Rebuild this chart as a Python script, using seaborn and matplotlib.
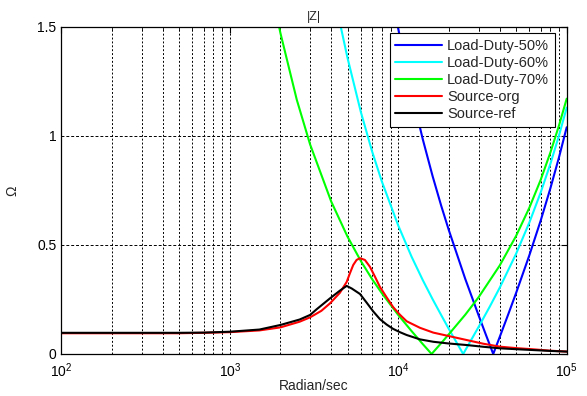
import numpy as np
import pandas as pd
import matplotlib
matplotlib.use("Agg")
import matplotlib.pyplot as plt
import seaborn as sns

# frequency (rad/s) and |Z| (ohm) values
w_load50 = [9800, 10000, 12000, 14000, 16000, 18000, 20000, 25000, 30000, 33000,
            36640, 40000, 45000, 50000, 60000, 70000, 80000, 90000, 100000]
z_load50 = [1.526, 1.491, 1.199, 0.983, 0.815, 0.679, 0.566, 0.344, 0.177, 0.092,
            0.0, 0.077, 0.182, 0.278, 0.452, 0.610, 0.759, 0.901, 1.039]

w_load60 = [4500, 5000, 6000, 7000, 8000, 10000, 12000, 14000, 16000, 18000, 20000,
            22000, 24300, 27000, 30000, 35000, 40000, 50000, 60000, 70000, 80000,
            90000, 100000]
z_load60 = [1.52, 1.357, 1.109, 0.928, 0.790, 0.589, 0.446, 0.338, 0.251, 0.178, 0.114,
            0.058, 0.0, 0.062, 0.124, 0.218, 0.303, 0.458, 0.602, 0.739, 0.871,
            1.001, 1.129]

w_load70 = [1800, 2000, 2500, 3000, 4000, 5000, 6000, 7000, 8000, 10000, 12000, 14000,
            15780, 18000, 20000, 25000, 30000, 40000, 50000, 60000, 70000, 80000,
            90000, 100000]
z_load70 = [1.638, 1.47, 1.165, 0.96, 0.699, 0.538, 0.426, 0.343, 0.278, 0.179, 0.105,
            0.045, 0.0, 0.05, 0.091, 0.180, 0.260, 0.405, 0.540, 0.670, 0.797, 0.923,
            1.047, 1.170]

w_src_org = [100, 200, 500, 700, 1000, 1500, 2000, 2600, 3000, 3500, 3936, 4500, 4943,
             5168, 5408, 5660, 5930, 6340, 6790, 7280, 7780, 8530, 9330, 10230, 11220,
             13460, 16140, 20000, 25470, 32000, 40180, 50000, 63240, 80000, 100000]
z_src_org = [0.095, 0.095, 0.095, 0.097, 0.100, 0.108, 0.122, 0.148, 0.168, 0.198, 0.232,
             0.28, 0.33, 0.37, 0.408, 0.431, 0.439, 0.431, 0.40, 0.354, 0.308, 0.26,
             0.215, 0.18, 0.15, 0.12, 0.098, 0.082, 0.064, 0.047, 0.0335, 0.027,
             0.0215, 0.015, 0.011]

w_src_ref = [100, 200, 500, 700, 1000, 1500, 2000, 2600, 3000, 3280, 3936, 4500, 4943,
             5300, 5930, 6500, 7110, 7780, 8530, 9330, 10230, 11220, 13460, 16140,
             20000, 25470, 32000, 40180, 50000, 63240, 80000, 100000]
z_src_ref = [0.097, 0.097, 0.097, 0.098, 0.102, 0.112, 0.133, 0.158, 0.179, 0.205, 0.255,
             0.29, 0.312, 0.30, 0.275, 0.235, 0.195, 0.16, 0.135, 0.115, 0.10, 0.087,
             0.067, 0.056, 0.048, 0.041, 0.033, 0.026, 0.022, 0.018, 0.014, 0.011]

labels = ["Load-Duty-50%", "Load-Duty-60%", "Load-Duty-70%", "Source-org", "Source-ref"]
colors = ["#0000ff", "#00ffff", "#00ff00", "#ff0000", "#000000"]

series = [(w_load50, z_load50), (w_load60, z_load60), (w_load70, z_load70),
          (w_src_org, z_src_org), (w_src_ref, z_src_ref)]
frames = []
for lab, (w, z) in zip(labels, series):
    frames.append(pd.DataFrame({"w": w, "z": z, "curve": lab}))
df = pd.concat(frames, ignore_index=True)

sns.set_style("white")
plt.rcParams["font.family"] = ["Liberation Sans", "DejaVu Sans"]

fig = plt.figure(figsize=(5.87, 3.96), dpi=100)
ax = fig.add_axes([0.1044, 0.1061, 0.8610, 0.8265])

sns.lineplot(data=df, x="w", y="z", hue="curve", hue_order=labels,
             palette=colors, linewidth=1.5, sort=False, estimator=None, ax=ax)

ax.set_xscale("log")
ax.set_xlim(1e2, 1e5)
ax.set_ylim(0, 1.5)
ax.set_yticks([0, 0.5, 1, 1.5])
ax.set_yticklabels(["0", "0.5", "1", "1.5"])

ax.grid(True, which="both", axis="x", color="k", linestyle=(0, (2, 2)), linewidth=0.7)
ax.grid(True, which="major", axis="y", color="k", linestyle=(0, (3, 2)), linewidth=0.7)

for s in ax.spines.values():
    s.set_color("k")
    s.set_linewidth(0.9)
ax.tick_params(which="both", direction="in", top=True, right=True, colors="k",
               labelsize=10)
ax.tick_params(which="major", length=4)
ax.tick_params(which="minor", length=2)
ax.tick_params(axis="x", which="major", pad=5)

ax.set_title("|Z|", fontsize=9, pad=5)
ax.set_xlabel("Radian/sec", fontsize=10)
ax.xaxis.set_label_coords(0.5, -0.075)
ax.set_ylabel("\u03a9", fontsize=10)
ax.yaxis.set_label_coords(-0.083, 0.5)

leg = ax.legend(loc="upper right", bbox_to_anchor=(0.977, 0.98), borderaxespad=0,
                fontsize=10.5, frameon=True, fancybox=False, edgecolor="k",
                framealpha=1, handlelength=3.2, handletextpad=0.35,
                labelspacing=0.2, borderpad=0.4)
leg.get_frame().set_linewidth(0.8)

fig.savefig("out.png", dpi=100)
